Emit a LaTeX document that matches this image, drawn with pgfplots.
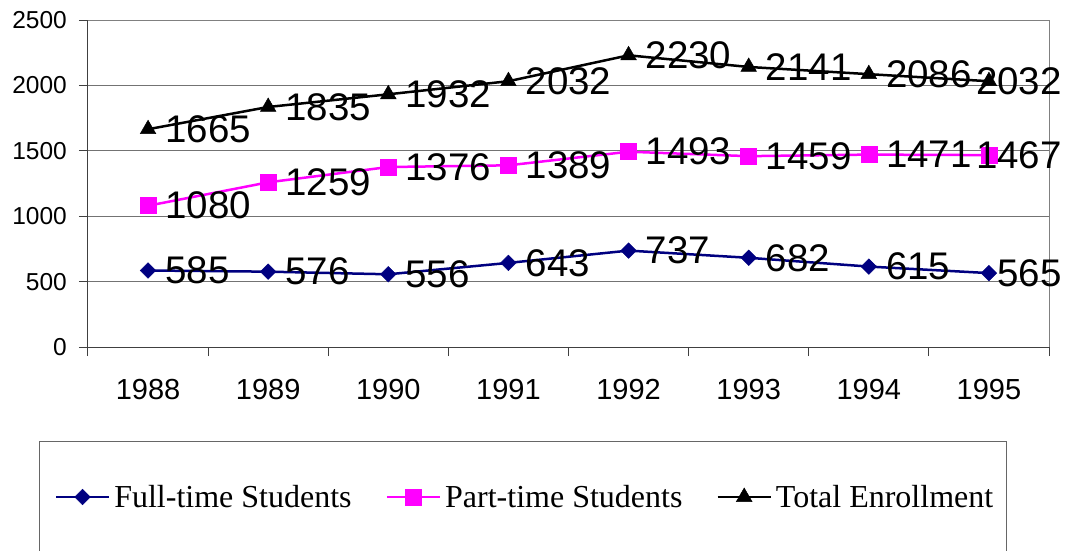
\documentclass[border=0pt]{standalone}
\usepackage{pgfplots}
\pgfplotsset{compat=1.18}
\usepackage{fontspec}
\setmainfont{Liberation Serif}
\newfontfamily\arial{Liberation Sans}
\definecolor{navyc}{RGB}{0,0,128}
\definecolor{magc}{RGB}{255,0,255}
\pgfplotsset{
  lbl/.style={forget plot, draw=none, mark=none, nodes near coords,
    every node near coord/.append style={anchor=west, xshift=17pt}},
  lblR/.style={forget plot, draw=none, mark=none, nodes near coords,
    every node near coord/.append style={anchor=east, xshift=73pt}},
}

\begin{document}
\begin{tikzpicture}
\useasboundingbox (-88pt,-203pt) rectangle (980pt,347pt);
\draw[black!60, line width=1pt] (-48pt,-260pt) rectangle (918pt,-94pt);
\begin{axis}[
  at={(0pt,0pt)}, anchor=south west,
  scale only axis, width=961pt, height=327pt,
  xmin=-0.5, xmax=7.5, ymin=0, ymax=2500,
  axis x line*=bottom, axis y line*=left,
  axis line style={line width=1pt, black!75, -},
  clip=false,
  /pgf/number format/assume math mode=true,
  /pgf/number format/1000 sep={},
  tick align=outside,
  xtick={-0.5,0.5,...,7.5}, xticklabels={},
  major tick length=9pt,
  extra x ticks={0,1,2,3,4,5,6,7},
  extra x tick labels={1988,1989,1990,1991,1992,1993,1994,1995},
  extra x tick style={major tick length=0pt},
  ytick={0,500,1000,1500,2000,2500},
  ymajorgrids, grid style={black!55, line width=0.8pt},
  tick style={black!75, line width=1pt},
  yticklabel style={font=\arial\fontsize{24.5}{24.5}\selectfont, anchor=east, inner sep=0pt, xshift=-12pt},
  xticklabel style={font=\arial\fontsize{29}{29}\selectfont, anchor=north, inner sep=0pt, yshift=-32pt},
  every node near coord/.append style={inner sep=0pt, text=black, font=\arial\fontsize{38.5}{40}\selectfont},
  legend columns=3,
  legend style={draw=none, fill=none, at={(0.4558,-0.4587)}, anchor=center,
    font=\fontsize{32}{38}\selectfont,
    /tikz/every even column/.append style={column sep=30pt},
    nodes={inner sep=4pt}},
  legend image code/.code={\draw[mark repeat=2, mark phase=2] plot coordinates {(0pt,0pt) (26.5pt,0pt) (53pt,0pt)};},
]
\draw[black!50, line width=1pt] (rel axis cs:0,1) -- (rel axis cs:1,1) -- (rel axis cs:1,0);
% Full-time
\addplot[color=navyc, line width=2.5pt, mark=square*, mark size=5.5pt, mark options={rotate=45, fill=navyc, draw=navyc, line width=0.5pt}]
  coordinates {(0,585) (1,576) (2,556) (3,643) (4,737) (5,682) (6,615) (7,565)};
\addlegendentry{Full-time Students}
\addplot[lbl] coordinates {(0,585) (1,576) (2,556) (3,643) (4,737) (5,682) (6,615)};
\addplot[lblR] coordinates {(7,565)};
% Part-time
\addplot[color=magc, line width=2.5pt, mark=square*, mark size=8pt, mark options={fill=magc, draw=magc, line width=0.5pt}]
  coordinates {(0,1080) (1,1259) (2,1376) (3,1389) (4,1493) (5,1459) (6,1471) (7,1467)};
\addlegendentry{Part-time Students}
\addplot[lbl] coordinates {(0,1080) (1,1259) (2,1376) (3,1389) (4,1493) (5,1459) (6,1471)};
\addplot[lblR] coordinates {(7,1467)};
% Total
\addplot[color=black, line width=2.5pt, mark=triangle*, mark size=9pt, mark options={fill=black, draw=black, line width=0.5pt}]
  coordinates {(0,1665) (1,1835) (2,1932) (3,2032) (4,2230) (5,2141) (6,2086) (7,2032)};
\addlegendentry{Total Enrollment}
\addplot[lbl] coordinates {(0,1665) (1,1835) (2,1932) (3,2032) (4,2230) (5,2141) (6,2086)};
\addplot[lblR] coordinates {(7,2032)};
\end{axis}
\end{tikzpicture}
\end{document}
